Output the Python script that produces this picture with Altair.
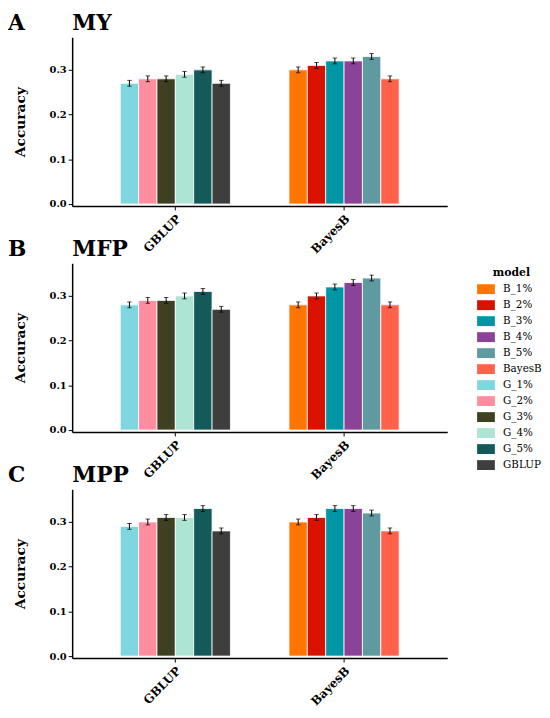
import altair as alt
import pandas as pd

methods = ["GBLUP", "BayesB"]
gblup_models = ["G_1%", "G_2%", "G_3%", "G_4%", "G_5%", "GBLUP"]
bayesb_models = ["B_1%", "B_2%", "B_3%", "B_4%", "B_5%", "BayesB"]

legend_models = ["B_1%", "B_2%", "B_3%", "B_4%", "B_5%", "BayesB",
                 "G_1%", "G_2%", "G_3%", "G_4%", "G_5%", "GBLUP"]
legend_colors = ["#FF7500", "#D91200", "#0096A6", "#8A4397", "#5F9AA0", "#FF624A",
                 "#7ED6DE", "#FF8DA0", "#3F4022", "#ADE4D4", "#145A5B", "#3E3E3E"]

letters = ["A", "B", "C"]
traits = ["MY", "MFP", "MPP"]

my_gblup = [0.27, 0.28, 0.28, 0.29, 0.30, 0.27]
my_bayesb = [0.30, 0.31, 0.32, 0.32, 0.33, 0.28]
mfp_gblup = [0.28, 0.29, 0.29, 0.30, 0.31, 0.27]
mfp_bayesb = [0.28, 0.30, 0.32, 0.33, 0.34, 0.28]
mpp_gblup = [0.29, 0.30, 0.31, 0.31, 0.33, 0.28]
mpp_bayesb = [0.30, 0.31, 0.33, 0.33, 0.32, 0.28]

my_err = [0.0065] * 12
mfp_err = [0.0065] * 12
mpp_err = [0.0065] * 12

FONT = "DejaVu Serif"


def make_df(g_vals, b_vals, errs):
    rows = []
    for i, (m, v) in enumerate(zip(gblup_models, g_vals)):
        rows.append({"method": "GBLUP", "model": m, "slot": i, "value": v,
                     "lo": v - errs[i], "hi": v + errs[i]})
    for i, (m, v) in enumerate(zip(bayesb_models, b_vals)):
        rows.append({"method": "BayesB", "model": m, "slot": i, "value": v,
                     "lo": v - errs[6 + i], "hi": v + errs[6 + i]})
    return pd.DataFrame(rows)


def panel(letter, trait, g_vals, b_vals, errs):
    df = make_df(g_vals, b_vals, errs)
    base = alt.Chart(df)
    x = alt.X("method:N", sort=methods,
              scale=alt.Scale(paddingInner=0.347, paddingOuter=0.285),
              axis=alt.Axis(title=None, labelAngle=-45, labelFontSize=12,
                            labelPadding=3))
    xo = alt.XOffset("slot:O", scale=alt.Scale(paddingInner=0, paddingOuter=0))
    yscale = alt.Scale(domain=[-0.0045, 0.373], nice=False, zero=False)
    y = alt.Y("value:Q", scale=yscale,
              axis=alt.Axis(title="Accuracy", values=[0, 0.1, 0.2, 0.3],
                            format=".1f", titlePadding=22))
    bars = base.mark_bar(stroke="white", strokeWidth=0.8).encode(
        x=x, xOffset=xo, y=y, y2=alt.datum(0),
        color=alt.Color("model:N",
                        scale=alt.Scale(domain=legend_models, range=legend_colors),
                        legend=alt.Legend(title="model", orient="none",
                                          legendX=414, legendY=233,
                                          symbolType="M-1.8,-1H1.8V1H-1.8Z",
                                          symbolSize=100, symbolStrokeWidth=0,
                                          rowPadding=5.2, labelOffset=12,
                                          titleFontSize=11, labelFontSize=10.5,
                                          titlePadding=6, titleAnchor="middle")))
    rule = base.mark_rule(color="black", strokeWidth=1).encode(
        x=x, xOffset=xo, y=alt.Y("lo:Q", scale=yscale), y2="hi:Q")
    cap_lo = base.mark_tick(color="black", size=4.5, thickness=1).encode(
        x=x, xOffset=xo, y=alt.Y("lo:Q", scale=yscale))
    cap_hi = base.mark_tick(color="black", size=4.5, thickness=1).encode(
        x=x, xOffset=xo, y=alt.Y("hi:Q", scale=yscale))
    lab = alt.Chart(pd.DataFrame({"t": [letter]})).mark_text(
        font=FONT, fontWeight="bold", fontSize=22, align="left",
        baseline="alphabetic", color="black").encode(
        text="t:N", x=alt.value(-65), y=alt.value(-7))
    ttl = alt.Chart(pd.DataFrame({"t": [trait]})).mark_text(
        font=FONT, fontWeight="bold", fontSize=22, align="left",
        baseline="alphabetic", color="black").encode(
        text="t:N", x=alt.value(0), y=alt.value(-7))
    return alt.layer(bars, rule, cap_lo, cap_hi, lab, ttl).properties(
        width=380, height=171)


chart = alt.vconcat(
    panel(letters[0], traits[0], my_gblup, my_bayesb, my_err),
    panel(letters[1], traits[1], mfp_gblup, mfp_bayesb, mfp_err),
    panel(letters[2], traits[2], mpp_gblup, mpp_bayesb, mpp_err),
    spacing=58, bounds="flush",
).properties(
    padding={"left": 0, "top": 0, "right": 0, "bottom": 0}
).configure_view(stroke=None).configure_axis(
    grid=False, domainColor="black", domainWidth=1.5, tickColor="black",
    tickSize=4, tickWidth=1, labelFont=FONT, labelFontWeight="bold",
    labelFontSize=10, labelColor="black", titleFont=FONT, titleFontWeight="bold",
    titleFontSize=14, titleColor="black"
).configure_legend(
    labelFont=FONT, titleFont=FONT, labelColor="black", titleColor="black",
    titleFontWeight="bold"
)

chart.save("out.html", embed_options={"renderer": "svg", "actions": False})
